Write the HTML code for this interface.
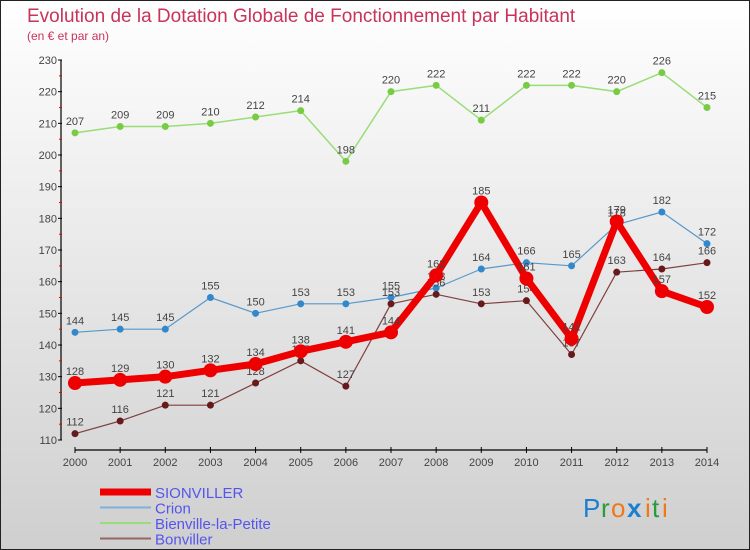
<!DOCTYPE html>
<html><head><meta charset="utf-8"><style>
html,body{margin:0;padding:0}
body{width:750px;height:550px;overflow:hidden;font-family:"Liberation Sans",sans-serif}
</style></head><body>
<svg width="750" height="550" xmlns="http://www.w3.org/2000/svg" style="display:block">
<defs><linearGradient id="bg" x1="0" y1="0" x2="0" y2="1"><stop offset="0" stop-color="#ffffff"/><stop offset="1" stop-color="#cfcfcf"/></linearGradient></defs>
<rect x="0.5" y="0.5" width="749" height="549" fill="url(#bg)" stroke="#222"/>
<text x="27" y="22" font-size="19" fill="#c8335a">Evolution de la Dotation Globale de Fonctionnement par Habitant</text>
<text x="27" y="40" font-size="12" fill="#c8335a">(en € et par an)</text>
<g id="axes"></g><g id="series"></g><g id="legend"></g>
<g font-size="26" font-family="Liberation Sans, sans-serif">
<text x="583" y="517" fill="#1a7fd0">P</text><text x="601" y="517" fill="#2a9a3a">r</text><text x="611" y="517" fill="#f07818">o</text><text x="627" y="517" fill="#1a7fd0" font-weight="bold">x</text><text x="645" y="517" fill="#f07818">i</text><text x="652" y="517" fill="#2a9a3a">t</text><text x="662" y="517" fill="#f07818">i</text>
</g>
</svg>
<script>
const years=[2000,2001,2002,2003,2004,2005,2006,2007,2008,2009,2010,2011,2012,2013,2014];
const yTicks=[110,120,130,140,150,160,170,180,190,200,210,220,230];
const sionviller=[128,129,130,132,134,138,141,144,162,185,161,142,179,157,152];
const crion=[144,145,145,155,150,153,153,155,158,164,166,165,178,182,172];
const bienville=[207,209,209,210,212,214,198,220,222,211,222,222,220,226,215];
const bonviller=[112,116,121,121,128,135,127,153,156,153,154,137,163,164,166];
const seriesNames=["SIONVILLER","Crion","Bienville-la-Petite","Bonviller"];
const NS="http://www.w3.org/2000/svg";
const xS=i=>75+i*(707-75)/(years.length-1);
const yS=v=>440-(v-110)*(380/120);
function mk(tag,attrs,parent,txt){const e=document.createElementNS(NS,tag);for(const k in attrs)e.setAttribute(k,attrs[k]);if(txt!==undefined)e.textContent=txt;parent.appendChild(e);return e;}
const axes=document.getElementById('axes');
let a=mk('line',{x1:61,y1:60,x2:61,y2:440,stroke:'#000','stroke-width':1.2},axes);


a=mk('line',{x1:75,y1:450,x2:707,y2:450,stroke:'#000','stroke-width':1.2},axes);


yTicks.forEach(v=>{const y=yS(v);
mk('line',{x1:58,y1:y,x2:62,y2:y,stroke:'#000'},axes);
if(v<230)mk('line',{x1:59,y1:y-15.8,x2:62,y2:y-15.8,stroke:'#e00'},axes);
const t=mk('text',{x:57,y:y+4,'text-anchor':'end','font-size':11,fill:'#444'},axes,v);

});
years.forEach((yr,i)=>{const x=xS(i);
mk('line',{x1:x,y1:447,x2:x,y2:453,stroke:'#000'},axes);
const t=mk('text',{x:x,y:466,'text-anchor':'middle','font-size':11,fill:'#444'},axes,yr);

});
const sg=document.getElementById('series');
function draw(vals,color,w,r,name,ptColor){
const g=mk('g',{},sg);


const p=mk('polyline',{points:vals.map((v,i)=>xS(i)+','+yS(v)).join(' '),fill:'none',stroke:color,'stroke-width':w,'stroke-linejoin':'round'},g);


vals.forEach((v,i)=>{const c=mk('circle',{cx:xS(i),cy:yS(v),r:r,fill:ptColor},g);


const t=mk('text',{x:xS(i),y:yS(v)-8,'text-anchor':'middle','font-size':11,fill:'#444'},g,v);

});}
draw(bienville,'#99dd77',1.5,3.5,'bienville','#77cc44');
draw(crion,'#5599cc',1.2,3.5,'crion','#3388cc');
draw(bonviller,'#804040',1.2,3.5,'bonviller','#661a1a');
draw(sionviller,'#ee0000',7,7,'sionviller','#ee0000');
const lg=document.getElementById('legend');
const lc=['#ee0000','#7fb0d8','#99dd77','#996666'],lw=[7,2,2,2];
seriesNames.forEach((n,i)=>{const y=492+i*15.5;
const g=mk('g',{},lg);


mk('line',{x1:100,y1:y,x2:151,y2:y,stroke:lc[i],'stroke-width':lw[i]},g);
mk('text',{x:155,y:y+6,'font-size':15,fill:'#5555ee'},g,n);});
</script>
</body></html>
